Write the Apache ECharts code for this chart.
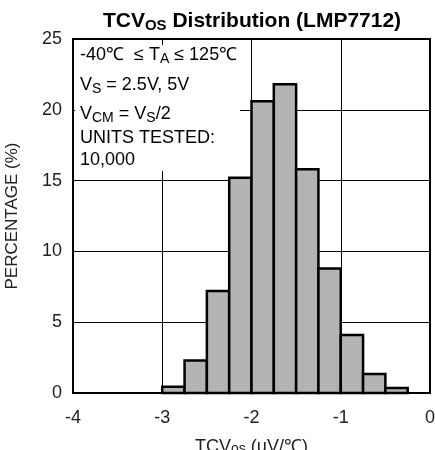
<!DOCTYPE html>
<html>
<head>
<meta charset="utf-8">
<script src="https://cdn.jsdelivr.net/npm/echarts@6/dist/echarts.min.js"></script>
<style>
  html, body { margin: 0; padding: 0; background: #fff; }
  #chart { width: 435px; height: 450px; }
</style>
</head>
<body>
<div id="chart"></div>
<script>
// histogram bins (uV/C), 0.25 wide
var binStart = [-3, -2.75, -2.5, -2.25, -2, -1.75, -1.5, -1.25, -1, -0.75, -0.5];
var binWidth = 0.25;
var percent = [0.45, 2.3, 7.2, 15.2, 20.6, 21.8, 15.8, 8.8, 4.1, 1.35, 0.35];
var xTicks = [-4, -3, -2, -1, 0];
var yTicks = [0, 5, 10, 15, 20, 25];

var FONT = "'Liberation Sans', Arial, sans-serif";

var bars = binStart.map(function (s, i) {
  return [s, s + binWidth, percent[i]];
});

// subscript style for rich text
function sub(size) {
  return { fontFamily: FONT, fontSize: size, padding: [Math.round(size * 0.55), 0, 0, 0] };
}

// one line of the conditions box
function boxLine(text, y) {
  return {
    type: "text", x: 5, y: y, z: 101,
    style: {
      text: text,
      font: "18px " + FONT, fill: "#000", verticalAlign: "middle",
      rich: { sub: sub(14) }
    }
  };
}

var myChart = echarts.init(document.getElementById("chart"));

var options = {
  animation: false,
  textStyle: { fontFamily: FONT },
  title: {
    text: "TCV{sub|OS} Distribution (LMP7712)",
    left: 247,
    textAlign: "center",
    top: 4,
    textStyle: {
      fontFamily: FONT,
      fontSize: 21,
      fontWeight: "bold",
      color: "#000",
      rich: {
        sub: { fontFamily: FONT, fontSize: 15, fontWeight: "bold", padding: [9, 0, 0, 0] }
      }
    }
  },
  grid: {
    left: 73,
    right: 5,
    top: 39,
    bottom: 57,
    outerBoundsMode: "none",
    containLabel: false,
    show: true,
    borderColor: "#000",
    borderWidth: 2,
    backgroundColor: "#fff"
  },
  xAxis: {
    type: "value",
    min: xTicks[0],
    max: xTicks[xTicks.length - 1],
    interval: 1,
    name: "TCV{sub|os} (µV/℃)",
    nameLocation: "middle",
    nameGap: 45,
    nameTextStyle: {
      fontFamily: FONT,
      fontSize: 18,
      color: "#222",
      rich: { sub: { fontFamily: FONT, fontSize: 14, color: "#222", padding: [4, 0, 0, 0] } }
    },
    axisLine: { show: false },
    axisTick: { show: false },
    axisLabel: { fontFamily: FONT, fontSize: 18, color: "#222", margin: 16 },
    splitLine: { show: true, lineStyle: { color: "#000", width: 1 } }
  },
  yAxis: {
    type: "value",
    min: yTicks[0],
    max: yTicks[yTicks.length - 1],
    interval: 5,
    name: "PERCENTAGE (%)",
    nameLocation: "middle",
    nameGap: 52,
    nameTextStyle: { fontFamily: FONT, fontSize: 17, color: "#222" },
    axisLine: { show: false },
    axisTick: { show: false },
    axisLabel: { fontFamily: FONT, fontSize: 18, color: "#222", margin: 11 },
    splitLine: { show: true, lineStyle: { color: "#000", width: 1 } }
  },
  // conditions box, white behind the text so it hides the grid lines
  graphic: [
    {
      type: "group",
      left: 75,
      top: 45,
      z: 100,
      children: [
        { type: "rect", z: 100, shape: { x: 0, y: 0, width: 165, height: 126 }, style: { fill: "#fff" } },
        boxLine("-40℃  ≤ T{sub|A} ≤ 125℃", 10),
        boxLine("V{sub|S} = 2.5V, 5V", 40),
        boxLine("V{sub|CM} = V{sub|S}/2", 69),
        boxLine("UNITS TESTED:", 93),
        boxLine("10,000", 115)
      ]
    }
  ],
  series: [
    {
      type: "custom",
      data: bars,
      z: 10,
      renderItem: function (params, api) {
        var p0 = api.coord([api.value(0), api.value(2)]);
        var p1 = api.coord([api.value(1), 0]);
        return {
          type: "rect",
          shape: { x: p0[0], y: p0[1], width: p1[0] - p0[0], height: p1[1] - p0[1] },
          style: { fill: "#b3b3b3", stroke: "#000", lineWidth: 2.5 }
        };
      }
    }
  ]
};
myChart.setOption(options);
</script>
</body>
</html>
